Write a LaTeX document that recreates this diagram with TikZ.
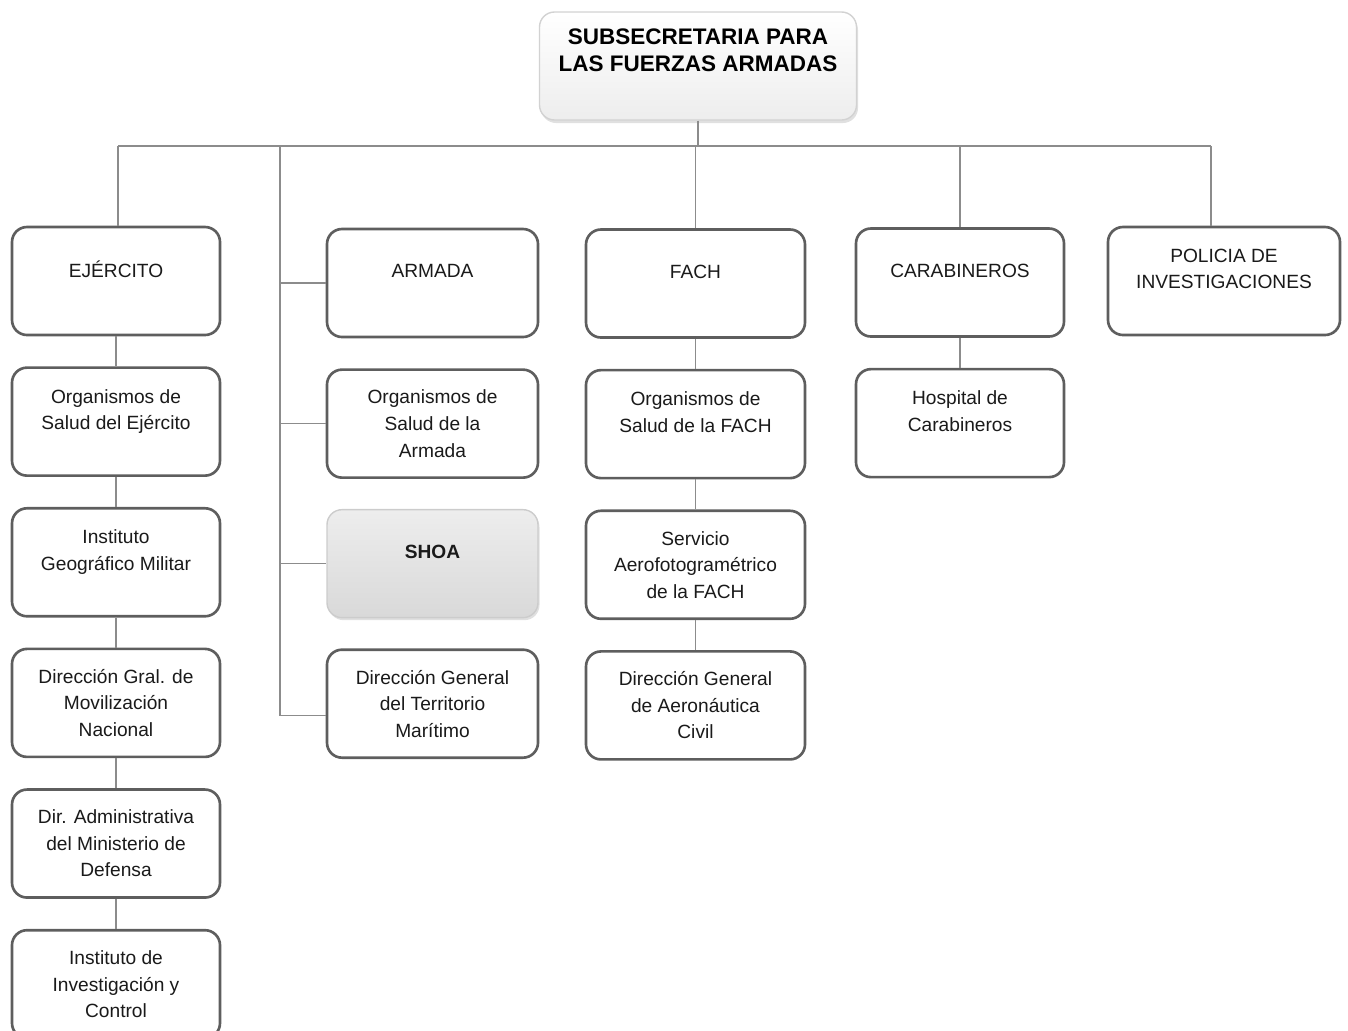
\documentclass[tikz,border=0pt]{standalone}
\usepackage{fontspec}
\setmainfont{Liberation Sans}
\usetikzlibrary{positioning, shadows}
\definecolor{boxgray}{HTML}{5E5E5E}
\definecolor{linegray}{HTML}{8C8C8C}
\definecolor{txtgray}{HTML}{1A1A1A}

\begin{document}
\begin{tikzpicture}[node distance=0.6cm,
    unit/.style={draw=boxgray, line width=1.5pt, rounded corners=0.3cm, fill=white,
        align=center, minimum height=2.16cm, inner sep=0.1cm, text=txtgray,
        font=\fontsize{10.9}{15.1}\selectfont},
    up/.style={text depth=0.48cm},
    head/.style={draw=gray!35, line width=0.8pt, rounded corners=0.3cm,
        top color=white, bottom color=gray!14, align=center, minimum height=2.16cm,
        minimum width=6.34cm, text depth=0.64cm, text=black,
        font=\bfseries\fontsize{12.8}{15.5}\selectfont,
        drop shadow={shadow xshift=0.03cm, shadow yshift=-0.06cm, fill=gray!60, opacity=0.4}},
    shaded/.style={draw=gray!40, line width=0.8pt, top color=gray!14, bottom color=gray!30,
        font=\bfseries\fontsize{10.9}{15.1}\selectfont,
        drop shadow={shadow xshift=0.03cm, shadow yshift=-0.05cm, fill=gray!60, opacity=0.4}},
    link/.style={draw=linegray, line width=0.6pt}]
    \useasboundingbox (0,0) rectangle (26.96,-20.6);

    % top
    \node[head] (sub) at (13.96,-1.32) {SUBSECRETARIA PARA\\LAS FUERZAS ARMADAS};

    % ejercito
    \node[unit, up, minimum width=4.16cm] (ej) at (2.32,-5.62) {EJÉRCITO};
    \node[unit, up, minimum width=4.16cm] (ej1) [below=of ej] {Organismos de\\Salud del Ejército};
    \node[unit, up, minimum width=4.16cm] (ej2) [below=of ej1] {Instituto\\Geográfico Militar};
    \node[unit, minimum width=4.16cm] (ej3) [below=of ej2] {Dirección Gral. de\\Movilización\\Nacional};
    \node[unit, minimum width=4.16cm] (ej4) [below=of ej3] {Dir. Administrativa\\del Ministerio de\\Defensa};
    \node[unit, minimum width=4.16cm] (ej5) [below=of ej4] {Instituto de\\Investigación y\\Control};

    % armada
    \node[unit, up, minimum width=4.22cm] (ar) at (8.65,-5.66) {ARMADA};
    \node[unit, minimum width=4.22cm] (ar1) [below=of ar] {Organismos de\\Salud de la\\Armada};
    \node[unit, up, shaded, minimum width=4.22cm] (ar2) [below=of ar1] {SHOA};
    \node[unit, minimum width=4.22cm] (ar3) [below=of ar2] {Dirección General\\del Territorio\\Marítimo};

    % fach
    \node[unit, up, minimum width=4.38cm] (fa) at (13.91,-5.67) {FACH};
    \node[unit, up, minimum width=4.38cm] (fa1) [below=of fa] {Organismos de\\Salud de la FACH};
    \node[unit, minimum width=4.38cm] (fa2) [below=of fa1] {Servicio\\Aerofotogramétrico\\de la FACH};
    \node[unit, minimum width=4.38cm] (fa3) [below=of fa2] {Dirección General\\de Aeronáutica\\Civil};

    % carabineros, policia
    \node[unit, up, minimum width=4.16cm] (ca) at (19.2,-5.65) {CARABINEROS};
    \node[unit, up, minimum width=4.16cm] (ca1) [below=of ca] {Hospital de\\Carabineros};
    \node[unit, up, minimum width=4.64cm] (po) at (24.48,-5.62) {POLICIA DE\\INVESTIGACIONES};

    % lines
    \coordinate (busL) at (2.36,-2.92);
    \coordinate (busR) at (24.22,-2.92);
    \coordinate (spine) at (5.6,-2.92);
    \draw[link] (busL) -- (busR);
    \draw[link] (sub.south) -- (sub.south |- busL);
    \draw[link] (busL) -- (busL |- ej.north);
    \draw[link] (fa.north) -- (fa.north |- busL);
    \draw[link] (ca.north) -- (ca.north |- busL);
    \draw[link] (busR) -- (busR |- po.north);
    \draw[link] (spine) |- ([yshift=-0.24cm]ar3.west);
    \foreach \b in {ar, ar1, ar2}
        \draw[link] (spine |- \b.west) -- (\b.west);
    \foreach \a/\b in {ej/ej1, ej1/ej2, ej2/ej3, ej3/ej4, ej4/ej5, fa/fa1, fa1/fa2, fa2/fa3, ca/ca1}
        \draw[link] (\a.south) -- (\b.north);
\end{tikzpicture}
\end{document}
